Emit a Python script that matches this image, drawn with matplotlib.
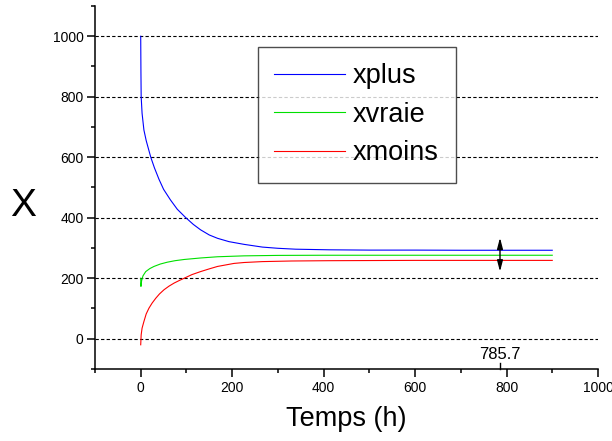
import matplotlib
matplotlib.use("Agg")
import matplotlib.pyplot as plt
from matplotlib.ticker import MultipleLocator

plt.rcParams["font.family"] = ["Liberation Sans", "DejaVu Sans"]

# values
t_plus = [0, 0.5, 1, 3, 7, 12, 22, 30, 40, 50, 65, 80, 98, 115, 131, 150, 168, 193, 226, 266, 300, 339, 412, 500, 600, 700, 800, 900]
xplus = [1000, 880, 800, 745, 690, 655, 600, 565, 527, 494, 459, 428, 401, 378, 360, 343, 332, 321, 312, 303, 299, 296, 294, 293, 293, 292.5, 292.5, 292.5]

t_vraie = [0, 0.5, 2, 5, 11, 20, 29, 43, 58, 75, 95, 131, 168, 226, 300, 400, 500, 600, 700, 800, 900]
xvraie = [200, 173, 192, 208, 222, 232, 239, 247, 253, 258, 262, 267, 271, 274, 275.5, 276, 276, 276, 276, 276, 276]

t_moins = [0, 1, 3, 7, 12, 18, 25, 33, 41, 51, 62, 73, 85, 95, 112, 131, 150, 168, 204, 226, 266, 330, 412, 500, 600, 700, 800, 900]
xmoins = [-20, 13, 35, 57, 82, 101, 118, 134, 148, 162, 174, 184, 193, 200, 212, 222, 231, 239, 249, 252, 255, 257, 258, 258.5, 259, 259, 259, 259]

t_mark = 785.7
arrow_low, arrow_high = 222, 334

fig = plt.figure(figsize=(6.12, 4.41), dpi=100)
ax = fig.add_axes([0.1552, 0.1633, 0.8219, 0.8231])

ax.plot(t_plus, xplus, color="#0000ff", lw=0.8, label="xplus")
ax.plot(t_vraie, xvraie, color="#00e000", lw=0.8, label="xvraie")
ax.plot(t_moins, xmoins, color="#ff0000", lw=0.8, label="xmoins")

ax.set_xlim(-100, 1000)
ax.set_ylim(-100, 1100)
ax.xaxis.set_major_locator(MultipleLocator(200))
ax.xaxis.set_minor_locator(MultipleLocator(100))
ax.yaxis.set_major_locator(MultipleLocator(200))
ax.yaxis.set_minor_locator(MultipleLocator(100))
ax.set_yticks(range(0, 1001, 200))

for s in ["top", "right"]:
    ax.spines[s].set_visible(False)
for s in ["left", "bottom"]:
    ax.spines[s].set_linewidth(1.1)
ax.tick_params(which="major", direction="out", length=5.8, width=1.1, labelsize=10, pad=2.5)
ax.tick_params(which="minor", direction="out", length=3.2, width=1.1)
ax.grid(axis="y", which="major", color="black", lw=0.8, linestyle=(0, (3, 2)))
ax.set_axisbelow(True)

# marker at t = 785.7
ax.plot([t_mark, t_mark], [-100, -80], color="black", lw=1.0, clip_on=False)
ax.text(t_mark, -77, "785.7", ha="center", va="bottom", fontsize=12)
ax.annotate("", xy=(t_mark, arrow_high), xytext=(t_mark, arrow_low),
            arrowprops=dict(arrowstyle="<|-|>,head_length=0.65,head_width=0.17",
                            color="black", lw=1.0, shrinkA=0, shrinkB=0, mutation_scale=10))

leg = ax.legend(loc="upper left", bbox_to_anchor=(0.3235, 0.888), fontsize=19.5,
                frameon=True, fancybox=False, borderpad=0.62, labelspacing=0.46,
                handlelength=2.6, handletextpad=0.3, borderaxespad=0)
leg.get_frame().set_edgecolor("#202020")
leg.get_frame().set_linewidth(1.0)

fig.text(23.5 / 612, 1 - 206 / 441, "X", fontsize=28, ha="center", va="center")
fig.text(346.5 / 612, 1 - 419 / 441, "Temps (h)", fontsize=19.5, ha="center", va="center")

fig.savefig("out.png", dpi=100)
